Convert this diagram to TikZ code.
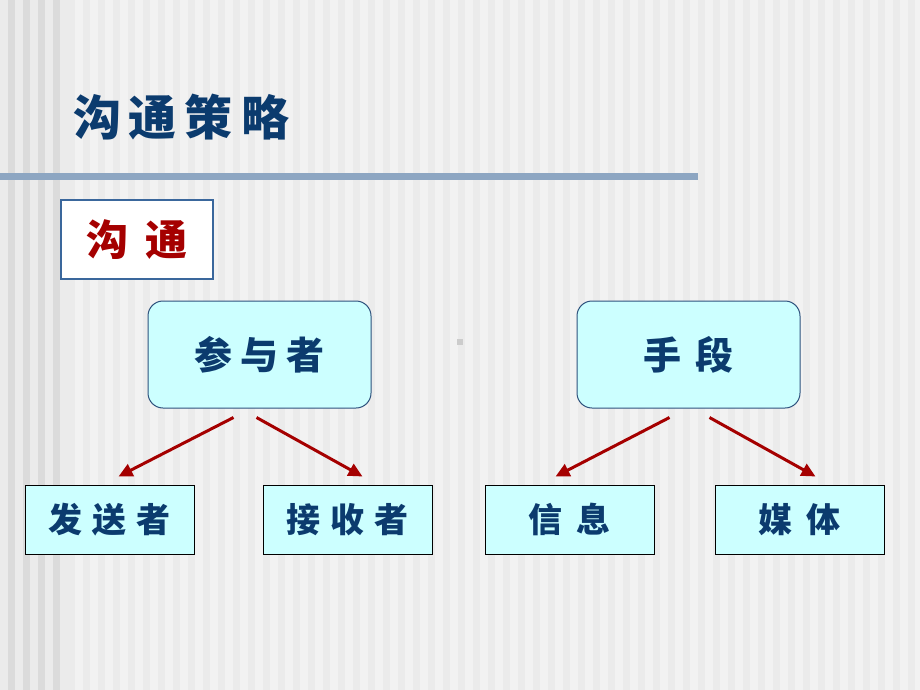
\documentclass[tikz,border=0pt]{standalone}
\usepackage{fontspec}
\newfontfamily\cjk{Noto Sans CJK SC}
\usetikzlibrary{arrows.meta}
\definecolor{navy}{HTML}{0B3B6E}
\definecolor{darkred}{HTML}{A50000}
\definecolor{cyanfill}{HTML}{CCFFFF}
\definecolor{rulecol}{HTML}{8DA6C2}
\definecolor{boxblue}{HTML}{3A679C}
\tikzset{
  role/.style={draw=boxblue!80!black,fill=cyanfill,rounded corners=15pt,line width=1pt,
    minimum width=223pt,minimum height=107pt,font=\cjk\bfseries\fontsize{38}{40}\selectfont,text=navy},
  leaf/.style={draw=black,fill=cyanfill,line width=1pt,
    minimum width=169pt,minimum height=69pt,font=\cjk\bfseries\fontsize{34}{36}\selectfont,text=navy},
  arr/.style={draw=darkred,line width=3pt,-{Triangle[length=14pt,width=13pt]}}
}
\begin{document}
\begin{tikzpicture}[x=1pt,y=-1pt]
\useasboundingbox (0,0) rectangle (920,690);
% background stripes
\fill[white!95!black] (0,0) rectangle (920,690);
\foreach \i in {4,...,61}{
  \fill[white!92!black] (\i*15+8,0) rectangle (\i*15+15,690);
}
\fill[black!8] (0,0) rectangle (68,690);
\foreach \i in {0,...,3}{
  \fill[black!14] (\i*15+8,0) rectangle (\i*15+15,690);
}
% title and rule
\node[font=\cjk\bfseries\fontsize{48}{50}\selectfont,text=navy] (title) at (181,117) {沟\kern8pt 通\kern8pt 策\kern8pt 略};
\fill[rulecol] (0,173) rectangle (698,180);
\node[draw=boxblue,fill=white,line width=2.5pt,minimum width=152pt,minimum height=79pt,
  font=\cjk\bfseries\fontsize{42}{44}\selectfont,text=darkred] (topic) at (137,239.5) {沟\kern18pt 通};
\fill[black!20] (457,339) rectangle (463,345);

% two groups
\node[role] (people) at (259.5,354.5) {参\kern8pt 与\kern8pt 者};
\node[role] (means) at (688.5,354.5) {手\kern14pt 段};

\node[leaf] (sender) at (109.5,519.5) {发\kern10pt 送\kern10pt 者};
\node[leaf] (receiver) at (347.5,519.5) {接\kern10pt 收\kern10pt 者};
\node[leaf] (message) at (569.5,519.5) {信\kern14pt 息};
\node[leaf] (media) at (799.5,519.5) {媒\kern14pt 体};

\draw[arr] ([xshift=-26pt,yshift=-9pt]people.south) -- ([xshift=9pt,yshift=8pt]sender.north);
\draw[arr] ([xshift=-3pt,yshift=-9pt]people.south) -- ([xshift=15pt,yshift=8pt]receiver.north);
\draw[arr] ([xshift=-19pt,yshift=-9pt]means.south) -- ([xshift=-14pt,yshift=8pt]message.north);
\draw[arr] ([xshift=21pt,yshift=-9pt]means.south) -- ([xshift=16pt,yshift=8pt]media.north);
\end{tikzpicture}
\end{document}
